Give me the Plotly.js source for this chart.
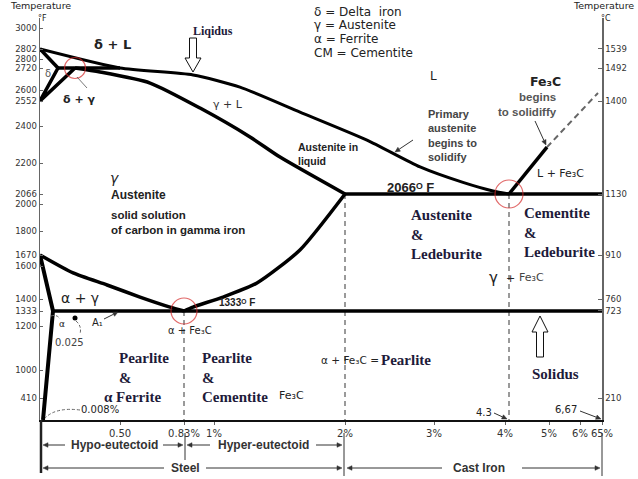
<!DOCTYPE html>
<html><head><meta charset="utf-8">
<script src="https://cdn.plot.ly/plotly-3.0.1.min.js"></script>
<style>html,body{margin:0;padding:0;background:#fff}</style>
</head><body>
<div id="chart" style="width:638px;height:479px"></div>
<script>
// ===== DATA: carbon (wt %) and temperature (°F) =====
const liquidusC   = [0, 0.5, 0.881, 1.198, 1.656, 2.247, 2.843, 3.408, 3.831, 4.3];
const liquidusF   = [2802, 2720, 2682, 2616, 2485, 2324, 2183, 2116, 2079, 2066];
const solidusC    = [0.18, 0.358, 0.655, 0.921, 1.275, 1.504, 2.0];
const solidusF    = [2720, 2698, 2638, 2509, 2341, 2232, 2066];
const deltaSolC   = [0, 0.1];
const deltaSolF   = [2802, 2720];
const deltaGamC   = [0.1, 0, 0.18];
const deltaGamF   = [2720, 2552, 2720];
const peritecC    = [0.1, 0.5];
const peritecF    = [2720, 2720];
const eutecticC   = [2.0, 6.67];
const eutecticF   = [2066, 2066];
const eutectoidC  = [0.025, 6.67];
const eutectoidF  = [1333, 1333];
const a3C         = [0, 0.171, 0.408, 0.603, 0.758, 0.83];
const a3F         = [1670, 1558, 1485, 1412, 1355, 1333];
const acmC        = [0.83, 0.881, 1.069, 1.328, 1.656, 2.0];
const acmF        = [1333, 1355, 1412, 1497, 1697, 2066];
const ferriteC    = [0, 0.025, 0.008];
const ferriteF    = [1670, 1333, 70];
const fe3cLiqC    = [4.3, 4.965];
const fe3cLiqF    = [2066, 2286];
const fe3cExtC    = [4.965, 6.548];
const fe3cExtF    = [2286, 2587];
const dropC       = [0.83, 2.0, 4.3];
const dropTopF    = [1333, 2066, 2066];
const roomF       = 70;
const invariantC  = [0.18, 0.83, 4.3];
const invariantF  = [2720, 1333, 2066];
const leftTicksF  = [3000, 2802, 2800, 2720, 2600, 2552, 2400, 2200, 2066, 2000, 1800, 1670, 1600, 1400, 1333, 1200, 1000, 410];
const rightTicksC = [1539, 1492, 1400, 1130, 910, 760, 723, 210];
const carbonTicks = [0.5, 0.83, 1, 2, 3, 4, 5, 6, 6.67];
const carbonTickText = ['0.50', '0.83%', '1%', '2%', '3%', '4%', '5%', '6%', '65%'];

// ===== Non-uniform schematic scales of the diagram (knots) =====
const carbonScale = { v: [0, 0.008, 0.025, 0.1, 0.18, 0.5, 0.83, 1, 2, 3, 4, 4.3, 5, 6, 6.67],
                      p: [40, 43, 53, 58, 75, 120, 184, 214, 345, 434, 505, 509, 549, 580, 602] };
const tempScale   = { v: [70, 410, 1000, 1200, 1333, 1400, 1600, 1670, 1800, 2000, 2066, 2200, 2400, 2552, 2600, 2720, 2800, 2802, 3000],
                      p: [420, 398, 370, 326, 311, 299, 266, 255, 231, 204, 194, 163, 126, 101, 90, 68, 59, 49, 28] };
function interp(val, s) {
  const v = s.v, p = s.p;
  if (val <= v[0]) return p[0];
  for (let i = 1; i < v.length; i++) {
    if (val <= v[i]) return p[i-1] + (val - v[i-1]) / (v[i] - v[i-1]) * (p[i] - p[i-1]);
  }
  return p[p.length-1];
}
const cx = c => interp(c, carbonScale);
const ty = f => interp(f, tempScale);

// ===== Layout frame =====
const X0 = 40, X1 = 602, Y0 = 18, Y1 = 420;
const px = x => (x - X0) / (X1 - X0);
const py = y => (Y1 - y) / (Y1 - Y0);

const SANS = 'Liberation Sans, Arial, DejaVu Sans, sans-serif';
const GEO = 'DejaVu Sans, sans-serif';
const SERIF = 'Liberation Serif, Times New Roman, serif';
const NAVY = '#1e1b3a';

function line(C, F, style, shape) {
  return { type: 'scatter', mode: 'lines', x: C.map(cx), y: F.map(ty),
    line: Object.assign({ color: '#000', width: 3.5, shape: shape || 'linear', smoothing: 0.6 }, style),
    hoverinfo: 'skip', showlegend: false };
}
const dropX = [], dropY = [];
dropC.forEach((c, i) => { dropX.push(cx(c), cx(c), null); dropY.push(ty(dropTopF[i]), ty(roomF), null); });

const traces = [
  { type: 'scatter', mode: 'lines', x: dropX, y: dropY, line: { color: '#7a7a7a', width: 1.5, dash: '5px,4px' }, hoverinfo: 'skip', showlegend: false },
  line(fe3cExtC, fe3cExtF, { color: '#666', width: 2, dash: '6px,4px' }),
  line(liquidusC, liquidusF, { width: 3 }, 'spline'),
  line(solidusC, solidusF, {}, 'spline'),
  line(deltaSolC, deltaSolF, {}),
  line(deltaGamC, deltaGamF, {}),
  line(peritecC, peritecF, {}),
  line(eutecticC, eutecticF, {}),
  line(eutectoidC, eutectoidF, {}),
  line(a3C, a3F, {}, 'spline'),
  line(acmC, acmF, {}, 'spline'),
  line(ferriteC, ferriteF, { width: 4 }),
  line(fe3cLiqC, fe3cLiqF, {}),
  { type: 'scatter', mode: 'markers', x: invariantC.map(cx), y: invariantF.map(ty),
    marker: { symbol: 'circle-open', size: [21, 26, 28], color: '#d42a2a', line: { width: 1.2 } },
    hoverinfo: 'skip', showlegend: false },
  { type: 'scatter', mode: 'markers', x: [null], y: [null], yaxis: 'y2', hoverinfo: 'skip', showlegend: false }
];

// ===== Text annotations =====
const ann = [];
function label(text, x, y, o) {
  o = o || {};
  ann.push({ xref: 'paper', yref: 'paper', x: px(x), y: py(y), text: text, showarrow: false,
    xanchor: o.anchor || 'center', yanchor: 'middle', align: o.align || (o.anchor || 'left'), borderpad: 0,
    font: { family: o.family || GEO, size: o.size || 11, color: o.color || '#222', weight: o.bold ? 'bold' : 'normal', style: o.italic ? 'italic' : 'normal' } });
}
// ===== Shapes (arrows are drawn as line + head) =====
const shapes = [];
function arrowShape(tipX, tipY, tailX, tailY, color, hl, hw) {
  color = color || '#333'; hl = hl || 5; hw = hw || 2.3;
  const dx = tipX - tailX, dy = tipY - tailY, L = Math.hypot(dx, dy);
  const ux = dx / L, uy = dy / L;
  const bx = tipX - ux * hl, by = tipY - uy * hl;
  shapes.push({ type: 'line', xref: 'paper', yref: 'paper', x0: px(tailX), y0: py(tailY), x1: px(bx), y1: py(by), line: { color: color, width: 1 } });
  const lx = bx - uy * hw, ly = by + ux * hw, rx = bx + uy * hw, ry = by - ux * hw;
  shapes.push({ type: 'path', xref: 'paper', yref: 'paper',
    path: 'M' + px(tipX) + ',' + py(tipY) + ' L' + px(lx) + ',' + py(ly) + ' L' + px(rx) + ',' + py(ry) + ' Z',
    fillcolor: color, line: { color: color, width: 0.5 } });
}
function vline(x, y0, y1, w, color) {
  shapes.push({ type: 'line', xref: 'paper', yref: 'paper', x0: px(x), x1: px(x), y0: py(y0), y1: py(y1), line: { color: color || '#333', width: w || 1 } });
}

// headers
label('Temperature', 40, 6, { size: 9.5 });
label('°F', 42, 18, { size: 8 });
label('Temperature', 603, 6, { size: 9.5 });
label('°C', 606, 18, { size: 8 });
// legend
['δ = Delta  iron', 'γ = Austenite', 'α = Ferrite', 'CM = Cementite'].forEach((t, i) =>
  label(t, 313, [12, 25, 39, 53][i], { anchor: 'left', size: 12 }));
// regions
label('Liqidus', 213, 31, { family: SERIF, bold: true, size: 12, color: NAVY });
label('δ + L', 112, 45, { bold: true, size: 13 });
label('δ', 48, 73, { size: 10, color: '#555' });
label('δ + γ', 79, 100, { bold: true, size: 11 });
label('γ + L', 228, 105, { size: 11, color: '#333' });
label('L', 433, 76, { size: 12 });
label('Fe₃C', 545, 81, { bold: true, size: 12.5 });
label('begins<br>to solidiffy', 558, 105, { family: SANS, bold: true, size: 11.5, color: '#555', anchor: 'right' });
label('L + Fe₃C', 560, 173, { size: 11 });
label('Primary<br>austenite<br>begins to<br>solidify', 427, 135, { family: SANS, bold: true, size: 11, color: '#444', anchor: 'left' });
label('Austenite in<br>liquid', 297, 154, { family: SANS, bold: true, size: 10.5, anchor: 'left' });
label('γ', 115, 178, { size: 14, italic: true });
label('Austenite', 110, 195, { family: SANS, bold: true, size: 12, anchor: 'left' });
label('solid solution<br>of carbon in gamma iron', 110, 223, { family: SANS, bold: true, size: 11.5, anchor: 'left' });
label('2066ᴼ F', 410, 187, { family: SANS, bold: true, size: 13 });
label('Austenite<br>&<br>Ledeburite', 410, 234, { family: SERIF, bold: true, size: 15, color: NAVY, anchor: 'left' });
label('Cementite<br>&<br>Ledeburite', 523, 232, { family: SERIF, bold: true, size: 15, color: NAVY, anchor: 'left' });
label('γ', 493, 278, { size: 15 });
label('+', 510, 278, { size: 11 });
label('Fe₃C', 531, 277, { size: 11, color: '#444' });
label('α + γ', 80, 298, { size: 14 });
label('1333ᴼ F', 237, 302, { family: SANS, bold: true, size: 10 });
label('α', 62, 324, { size: 9 });
label('0.025', 69, 342, { size: 10, color: '#444' });
label('A₁', 97, 322, { size: 10 });
label('α + Fe₃C', 190, 330, { size: 10 });
label('\u2003Pearlite<br>\u2003&<br>α Ferrite', 103, 377, { family: SERIF, bold: true, size: 15, color: NAVY, anchor: 'left' });
label('Pearlite<br>&<br>Cementite', 201, 377, { family: SERIF, bold: true, size: 15, color: NAVY, anchor: 'left' });
label('Fe₃C', 291, 395, { size: 11 });
label('α + Fe₃C =', 320, 360, { size: 10.5, anchor: 'left' });
label('Pearlite', 380, 360, { family: SERIF, bold: true, size: 15, color: NAVY, anchor: 'left' });
label('Solidus', 555, 374, { family: SERIF, bold: true, size: 15, color: NAVY });
label('0.008%', 100, 409, { size: 10 });
label('4.3', 484, 412, { size: 10 });
label('6,67', 566, 409, { size: 10 });
// bottom bracket texts
label('Hypo-eutectoid', 114, 445, { family: SANS, bold: true, size: 12, color: '#333' });
label('Hyper-eutectoid', 263, 445, { family: SANS, bold: true, size: 12, color: '#333' });
label('Steel', 185, 468, { family: SANS, bold: true, size: 12, color: '#333' });
label('Cast Iron', 479, 468, { family: SANS, bold: true, size: 12, color: '#333' });

// pointer arrows
arrowShape(395, 152, 413, 140, '#333');
arrowShape(546, 145, 535, 121, '#333');
arrowShape(118, 312, 104, 319, '#333');
arrowShape(507, 419, 494, 413, '#333');
arrowShape(601, 419, 580, 411, '#333');
// bottom brackets
arrowShape(43, 445, 65, 445); arrowShape(183, 445, 163, 445);
arrowShape(187, 445, 210, 445); arrowShape(342, 445, 316, 445);
arrowShape(43, 468, 164, 468); arrowShape(342, 468, 206, 468);
arrowShape(347, 468, 442, 468); arrowShape(600, 468, 522, 468);
vline(41, 420, 473, 2.5, '#222');
vline(185, 433, 460);
vline(344, 433, 476);
vline(602, 433, 476);
// hollow arrows, dashed pointers, dot
shapes.push(
  { type: 'path', xref: 'x', yref: 'y', path: 'M189.5,38 L196.5,38 L196.5,58 L201,58 L193,72 L185,58 L189.5,58 Z', line: { color: '#111', width: 1 }, fillcolor: '#fff' },
  { type: 'path', xref: 'x', yref: 'y', path: 'M540,316 L548,332 L543.5,332 L543.5,357 L536.5,357 L536.5,332 L532,332 Z', line: { color: '#111', width: 1 }, fillcolor: '#fff' },
  { type: 'path', xref: 'x', yref: 'y', path: 'M80,410 Q56,407 45,418', line: { color: '#666', width: 1, dash: '3px,2px' } },
  { type: 'path', xref: 'x', yref: 'y', path: 'M51,316 Q57,314 60,319', line: { color: '#666', width: 1, dash: '3px,2px' } },
  { type: 'path', xref: 'x', yref: 'y', path: 'M76,321 Q82,326 80,334', line: { color: '#666', width: 1, dash: '3px,2px' } },
  { type: 'line', xref: 'x', yref: 'y', x0: 77, y0: 77, x1: 87, y1: 88, line: { color: '#555', width: 0.8 } },
  { type: 'circle', xref: 'x', yref: 'y', x0: 72.5, x1: 77.5, y0: 315.5, y1: 320.5, fillcolor: '#000', line: { color: '#000', width: 0 } }
);

const layout = {
  width: 638, height: 479,
  margin: { l: X0, r: 638 - X1, t: Y0, b: 479 - Y1, pad: 0 },
  paper_bgcolor: '#fff', plot_bgcolor: '#fff', showlegend: false,
  xaxis: { range: [X0, X1], tickmode: 'array', tickvals: carbonTicks.map(cx), ticktext: carbonTickText, tickangle: 0,
    showline: true, linecolor: '#111', linewidth: 2, ticks: 'outside', ticklen: 3, tickcolor: '#666',
    showgrid: false, zeroline: false, fixedrange: true, tickfont: { family: GEO, size: 10, color: '#333' } },
  yaxis: { range: [Y1, Y0], tickmode: 'array', tickvals: leftTicksF.map(ty), ticktext: leftTicksF.map(String),
    showline: true, linecolor: '#666', linewidth: 1.5, ticks: 'inside', ticklen: 3, tickcolor: '#666',
    showgrid: false, zeroline: false, fixedrange: true, tickfont: { family: GEO, size: 8.5, color: '#333' } },
  yaxis2: { overlaying: 'y', side: 'right', range: [Y1, Y0], tickmode: 'array',
    tickvals: rightTicksC.map(c => ty(c * 9 / 5 + 32)), ticktext: rightTicksC.map(String),
    showline: true, linecolor: '#666', linewidth: 1.5, ticks: 'inside', ticklen: 4, tickcolor: '#666',
    showgrid: false, zeroline: false, fixedrange: true, tickfont: { family: GEO, size: 8.5, color: '#333' } },
  annotations: ann, shapes: shapes
};
Plotly.newPlot('chart', traces, layout, { staticPlot: true, displayModeBar: false });
</script>
</body></html>
